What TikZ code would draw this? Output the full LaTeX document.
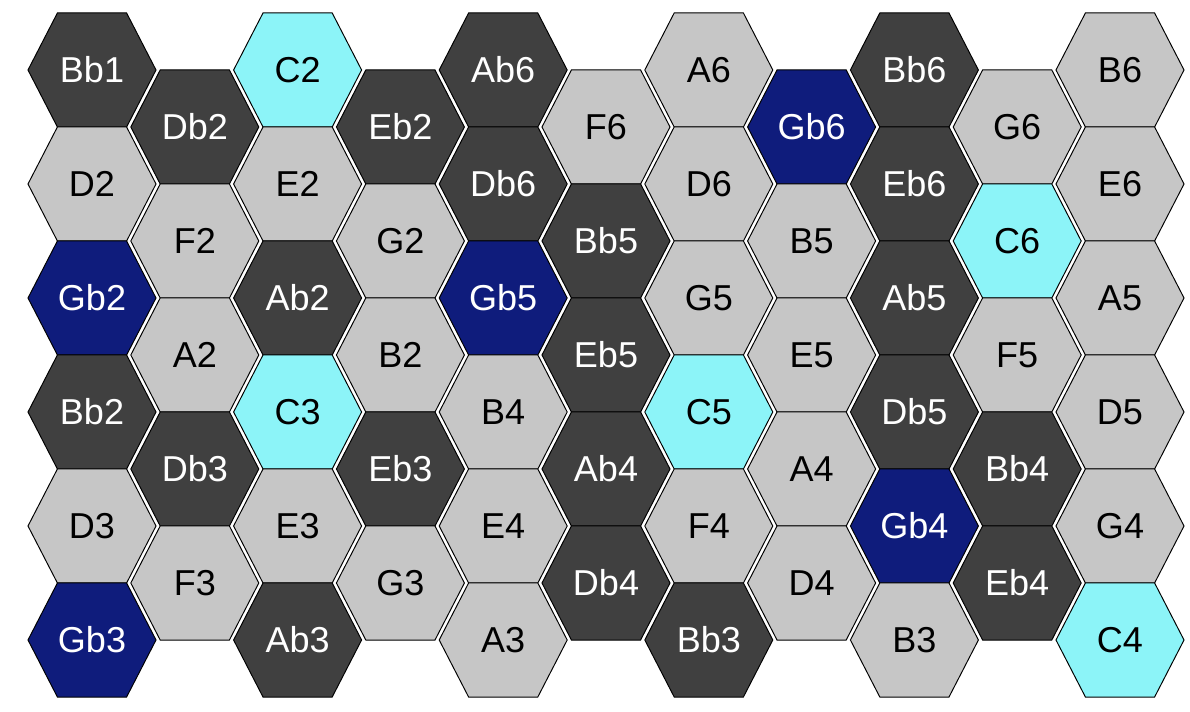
\documentclass[tikz,border=0pt]{standalone}
\usepackage{fontspec}
\setmainfont{Liberation Sans}
\definecolor{hdk}{HTML}{404040}
\definecolor{hlt}{HTML}{C6C6C6}
\definecolor{hcy}{HTML}{8CF4F8}
\definecolor{hnv}{HTML}{0F1C7C}
\begin{document}
\begin{tikzpicture}[x=0.02cm,y=-0.02cm,
  cell/.style={draw=black, line width=0.55pt, line join=miter},
  cdk/.style={fill=hdk}, clt/.style={fill=hlt}, ccy/.style={fill=hcy}, cnv/.style={fill=hnv},
  lab/.style={inner sep=0pt, font=\fontsize{20.5}{24}\selectfont},
  tdk/.style={text=white}, tlt/.style={text=black}, tcy/.style={text=black}, tnv/.style={text=white}]
\useasboundingbox (0,0) rectangle (1190,712);
\foreach \c/\k/\n/\s in {
 0/0/Bb1/dk, 0/2/D2/lt, 0/4/Gb2/nv, 0/6/Bb2/dk, 0/8/D3/lt, 0/10/Gb3/nv,
 1/1/Db2/dk, 1/3/F2/lt, 1/5/A2/lt, 1/7/Db3/dk, 1/9/F3/lt,
 2/0/C2/cy, 2/2/E2/lt, 2/4/Ab2/dk, 2/6/C3/cy, 2/8/E3/lt, 2/10/Ab3/dk,
 3/1/Eb2/dk, 3/3/G2/lt, 3/5/B2/lt, 3/7/Eb3/dk, 3/9/G3/lt,
 4/0/Ab6/dk, 4/2/Db6/dk, 4/4/Gb5/nv, 4/6/B4/lt, 4/8/E4/lt, 4/10/A3/lt,
 5/1/F6/lt, 5/3/Bb5/dk, 5/5/Eb5/dk, 5/7/Ab4/dk, 5/9/Db4/dk,
 6/0/A6/lt, 6/2/D6/lt, 6/4/G5/lt, 6/6/C5/cy, 6/8/F4/lt, 6/10/Bb3/dk,
 7/1/Gb6/nv, 7/3/B5/lt, 7/5/E5/lt, 7/7/A4/lt, 7/9/D4/lt,
 8/0/Bb6/dk, 8/2/Eb6/dk, 8/4/Ab5/dk, 8/6/Db5/dk, 8/8/Gb4/nv, 8/10/B3/lt,
 9/1/G6/lt, 9/3/C6/cy, 9/5/F5/lt, 9/7/Bb4/dk, 9/9/Eb4/dk,
 10/0/B6/lt, 10/2/E6/lt, 10/4/A5/lt, 10/6/D5/lt, 10/8/G4/lt, 10/10/C4/cy} {
  \path[cell, c\s, shift={({92+102.8*\c},{70+57*\k})}]
    (64,0) -- (34.5,57.2) -- (-34.5,57.2) -- (-64,0) -- (-34.5,-57.2) -- (34.5,-57.2) -- cycle;
  \node[lab, t\s] (n\n) at ({92+102.8*\c},{70+57*\k}) {\n};
}
\end{tikzpicture}
\end{document}
